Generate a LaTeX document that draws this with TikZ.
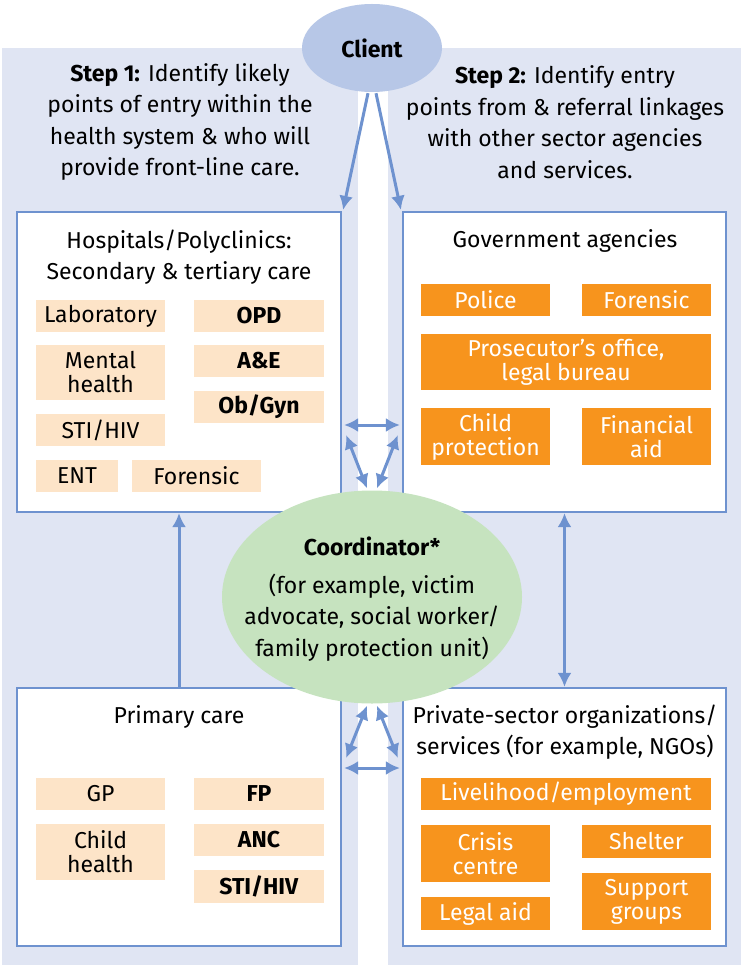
\documentclass[tikz,border=0pt]{standalone}
\usepackage{fontspec}
\setmainfont{Fira Sans}
\usetikzlibrary{arrows.meta,shapes.geometric,calc}
\definecolor{panelbg}{HTML}{E0E5F3}
\definecolor{clientfill}{HTML}{B7C7E7}
\definecolor{coordfill}{HTML}{C6E3BF}
\definecolor{bordblue}{HTML}{6E92CF}
\definecolor{peach}{HTML}{FDE4C8}
\definecolor{orangebox}{HTML}{F7941D}
\tikzset{
  x=1pt, y=-1pt,
  txt/.style={font=\fontsize{23}{31.5}\selectfont, align=center, text=black},
  bigbox/.style={draw=bordblue, line width=2.2pt, fill=white, inner sep=0pt},
  peachbox/.style={fill=peach, inner sep=0pt, font=\fontsize{23}{24}\selectfont, align=center, text=black},
  orbox/.style={fill=orangebox, inner sep=0pt, font=\fontsize{23}{24}\selectfont, align=center, text=white},
  arr/.style={draw=bordblue, line width=3pt, -{Latex[length=14pt,width=14pt]}},
  darr/.style={draw=bordblue, line width=3pt, {Latex[length=14pt,width=14pt]}-{Latex[length=14pt,width=14pt]}},
}
\begin{document}
\begin{tikzpicture}
\useasboundingbox (0,0) rectangle (743,965);
\fill[white] (0,0) rectangle (743,965);
% panels
\fill[panelbg] (2,48) rectangle (358,965);
\fill[panelbg] (388,48) rectangle (741,965);
% step texts
\node[txt] (step1) at (180,122) {\textbf{Step 1:} Identify likely\\points of entry within the\\health system \& who will\\provide front-line care.};
\node[txt] (step2) at (565,122) {\textbf{Step 2:} Identify entry\\points from \& referral linkages\\with other sector agencies\\and services.};
% big boxes
\node[bigbox, minimum width=324, minimum height=300] (hosp) at (179,362) {};
\node[bigbox, minimum width=323, minimum height=300] (gov) at (564.5,362) {};
\node[bigbox, minimum width=324, minimum height=258] (prim) at (179,817) {};
\node[bigbox, minimum width=323, minimum height=258] (priv) at (564.5,817) {};
% box titles
\node[txt] (hosptitle) at (179,257) {Hospitals/Polyclinics:\\Secondary \& tertiary care};
\node[txt] (govtitle) at (565,241) {Government agencies};
\node[txt] (primtitle) at (179,717) {Primary care};
\node[txt] (privtitle) at (565,732) {Private-sector organizations/\\services (for example, NGOs)};
% hospital items
\node[peachbox, minimum width=129, minimum height=32] (lab) at (100.5,316) {Laboratory};
\node[peachbox, minimum width=130, minimum height=32] (opd) at (259,316) {\textbf{OPD}};
\node[peachbox, minimum width=129, minimum height=55] (mental) at (100.5,372.5) {Mental\\health};
\node[peachbox, minimum width=130, minimum height=32] (ae) at (259,361) {\textbf{A\&E}};
\node[peachbox, minimum width=130, minimum height=32] (obgyn) at (259,407) {\textbf{Ob/Gyn}};
\node[peachbox, minimum width=129, minimum height=32] (sti1) at (100.5,430) {STI/HIV};
\node[peachbox, minimum width=82, minimum height=32] (ent) at (77,476) {ENT};
\node[peachbox, minimum width=129, minimum height=32] (forh) at (196.5,476) {Forensic};
% government items
\node[orbox, minimum width=129, minimum height=32] (police) at (485.5,300) {Police};
\node[orbox, minimum width=129, minimum height=32] (forg) at (646.5,300) {Forensic};
\node[orbox, minimum width=290, minimum height=56] (pros) at (566,362) {Prosecutor’s office,\\legal bureau};
\node[orbox, minimum width=129, minimum height=57] (child) at (485.5,436.5) {Child\\protection};
\node[orbox, minimum width=129, minimum height=57] (fin) at (646.5,436.5) {Financial\\aid};
% primary items
\node[peachbox, minimum width=129, minimum height=32] (gp) at (100.5,794) {GP};
\node[peachbox, minimum width=130, minimum height=32] (fp) at (259,794) {\textbf{FP}};
\node[peachbox, minimum width=129, minimum height=56] (chh) at (100.5,852) {Child\\health};
\node[peachbox, minimum width=130, minimum height=32] (anc) at (259,840) {\textbf{ANC}};
\node[peachbox, minimum width=130, minimum height=33] (sti2) at (259,886.5) {\textbf{STI/HIV}};
% private items
\node[orbox, minimum width=290, minimum height=32] (live) at (566,794) {Livelihood/employment};
\node[orbox, minimum width=129, minimum height=57] (crisis) at (485.5,853.5) {Crisis\\centre};
\node[orbox, minimum width=129, minimum height=33] (shelter) at (646.5,841.5) {Shelter};
\node[orbox, minimum width=129, minimum height=57] (support) at (646.5,901.5) {Support\\groups};
\node[orbox, minimum width=129, minimum height=33] (legal) at (485.5,913.5) {Legal aid};
% ellipses
\node[ellipse, fill=clientfill, minimum width=140, minimum height=88, inner sep=0pt, font=\fontsize{23}{24}\selectfont\bfseries] (client) at (372,48) {Client};
\node[ellipse, fill=coordfill, minimum width=300, minimum height=213, inner sep=0pt] (coord) at (372,597) {};
\node[txt] (coordtxt) at (372,599) {\textbf{Coordinator*}\\[6pt](for example, victim\\advocate, social worker/\\family protection unit)};
% arrows from client
\draw[arr] ($(client.south)+(-4,1)$) -- ($(hosp.north east)+(1,-1)$);
\draw[arr] ($(client.south)+(4,1)$) -- ($(gov.north west)+(-1,-1)$);
% upper connectors
\draw[darr] ($(hosp.east)+(2,63)$) -- ($(gov.west)+(-2,63)$);
\draw[darr] ($(hosp.east)+(4,73)$) -- ($(coord.north)+(-5,-2)$);
\draw[darr] ($(gov.west)+(-4,73)$) -- ($(coord.north)+(5,-2)$);
% lower connectors
\draw[darr] ($(prim.east)+(2,-49)$) -- ($(priv.west)+(-2,-49)$);
\draw[darr] ($(prim.east)+(4,-59)$) -- ($(coord.south)+(-5,2)$);
\draw[darr] ($(priv.west)+(-4,-59)$) -- ($(coord.south)+(5,2)$);
% vertical connectors
\draw[arr] (prim.north) -- (hosp.south);
\draw[darr] (gov.south) -- (priv.north);
\end{tikzpicture}
\end{document}
